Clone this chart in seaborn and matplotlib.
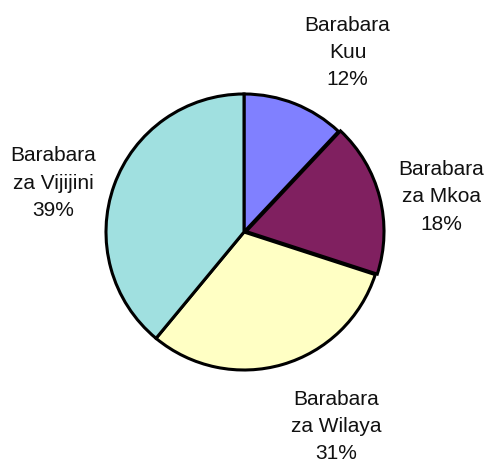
import matplotlib
matplotlib.use("Agg")
import matplotlib.pyplot as plt
import seaborn as sns

# data
names = ["Barabara\nKuu", "Barabara\nza Mkoa", "Barabara\nza Wilaya", "Barabara\nza Vijijini"]
shares = [12, 18, 31, 39]
colours = ["#8080FF", "#802060", "#FFFFC4", "#A0E0E0"]

sns.set_theme(style="white")
plt.rcParams["font.family"] = ["Liberation Sans", "DejaVu Sans"]

fig = plt.figure(figsize=(4.86, 4.62), dpi=100)
# pie circle ~ center (244,232) px, radius 138 px
ax = fig.add_axes([106 / 486, 92 / 462, 276 / 486, 276 / 462])

labels = [f"{n}\n{s}%" for n, s in zip(names, shares)]
wedges, texts = ax.pie(
    shares,
    labels=labels,
    colors=colours,
    startangle=90,
    counterclock=False,
    explode=[0, 0.015, 0, 0],
    wedgeprops=dict(edgecolor="black", linewidth=2.2),
    textprops=dict(fontsize=15, color="#111111", linespacing=1.55),
)

# label positions (axes data units, radius = 1)
label_pos = [(0.75, 1.30), (1.43, 0.255), (0.67, -1.41), (-1.38, 0.355)]
for t, (x, y) in zip(texts, label_pos):
    t.set_position((x, y))
    t.set_ha("center")
    t.set_va("center")
    t.set_multialignment("center")

ax.set_xlim(-1, 1)
ax.set_ylim(-1, 1)
ax.set_aspect("equal")
ax.axis("off")

fig.savefig("out.png", dpi=100)
